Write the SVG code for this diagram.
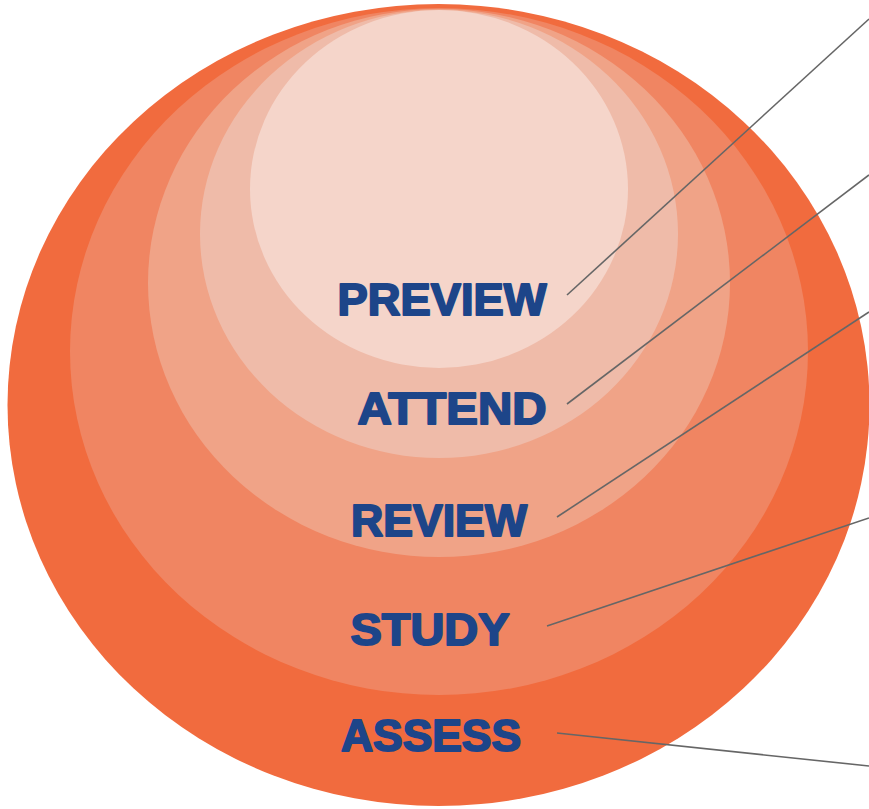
<svg xmlns="http://www.w3.org/2000/svg" width="869" height="809" viewBox="0 0 869 809">
<style>
.lbl{font-family:"Comic Sans MS","Liberation Sans",Arial,sans-serif;font-weight:bold;font-size:45px;fill:#1d4589;stroke:#1d4589;stroke-width:2;stroke-linejoin:round;text-anchor:middle}
.conn line{stroke:#666666;stroke-width:1.6;fill:none}
</style>
<rect width="869" height="809" fill="#ffffff"/>
<g id="assess"><ellipse cx="438.5" cy="405" rx="431" ry="401" fill="#f16b3e"/></g>
<g id="study"><ellipse cx="439" cy="351.5" rx="369" ry="343.5" fill="#f08562"/></g>
<g id="review"><ellipse cx="439" cy="283" rx="291" ry="274" fill="#f0a387"/></g>
<g id="attend"><ellipse cx="439" cy="234" rx="239" ry="224" fill="#efbba9"/></g>
<g id="preview"><ellipse cx="439" cy="189" rx="189" ry="179" fill="#f5d5ca"/></g>
<g id="labels">
<text class="lbl" x="442" y="315" textLength="209" lengthAdjust="spacingAndGlyphs">PREVIEW</text>
<text class="lbl" x="452" y="424" textLength="189" lengthAdjust="spacingAndGlyphs">ATTEND</text>
<text class="lbl" x="439" y="536" textLength="176" lengthAdjust="spacingAndGlyphs">REVIEW</text>
<text class="lbl" x="430" y="645" textLength="159" lengthAdjust="spacingAndGlyphs">STUDY</text>
<text class="lbl" x="431" y="751" textLength="180" lengthAdjust="spacingAndGlyphs">ASSESS</text>
</g>
<g id="connectors" class="conn">
<line x1="567" y1="295" x2="869" y2="19"/>
<line x1="567" y1="404" x2="869" y2="175"/>
<line x1="557" y1="517" x2="869" y2="312"/>
<line x1="547" y1="626" x2="869" y2="518"/>
<line x1="557" y1="733" x2="869" y2="766"/>
</g>
</svg>
